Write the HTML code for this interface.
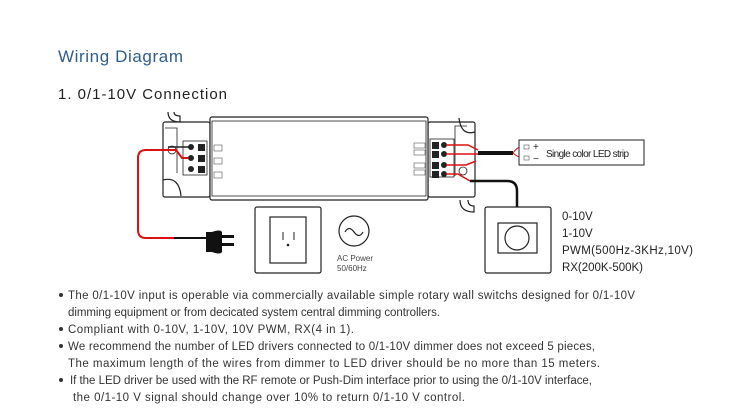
<!DOCTYPE html>
<html><head><meta charset="utf-8"><style>
html,body{margin:0;padding:0;background:#fff;}
svg{display:block;font-family:"Liberation Sans",sans-serif;}
</style></head><body>
<svg width="736" height="413" viewBox="0 0 736 413" xmlns="http://www.w3.org/2000/svg">
<rect width="736" height="413" fill="#fff"/>
<text x="58" y="62" font-size="17" fill="#2f5d8c" textLength="125">Wiring Diagram</text>
<text x="58" y="99" font-size="15" fill="#222" textLength="169">1. 0/1-10V Connection</text>

<g stroke="#222" fill="#fff" stroke-width="1.2">
<rect x="163" y="122" width="47" height="75" rx="2"/>
<rect x="428" y="122" width="47" height="75" rx="2"/>
<rect x="210" y="117" width="218" height="83" rx="2"/>
<rect x="212" y="121" width="214" height="75" stroke-width="0.8"/>
<rect x="183" y="141" width="24" height="34" stroke-width="0.8"/>
<rect x="430" y="139" width="24" height="38" stroke-width="0.8"/>
<path d="M165,128 h12 v45 M467,126 h-12 v50" stroke-width="0.8" fill="none"/>
<path d="M163,180 q16,-4 18,16 M475,132 q-14,4 -16,-14" fill="none" stroke-width="1.2"/>
<path d="M168,112 q0,10 12,10 v-6 q-6,0 -6,-4 M460,200 q0,12 14,12 v-6 q-6,0 -6,-6" fill="none"/>
<circle cx="172" cy="150" r="4" stroke-width="0.8"/>
<circle cx="463" cy="171" r="4" stroke-width="0.8"/>
</g>
<g fill="#222">
<rect x="198" y="144" width="7" height="7"/><rect x="198" y="155" width="7" height="7"/><rect x="198" y="166" width="7" height="7"/>
<circle cx="191" cy="147" r="3"/><circle cx="191" cy="158" r="3"/><circle cx="191" cy="169" r="3"/>
<rect x="432" y="142" width="7" height="7"/><rect x="432" y="151" width="7" height="7"/><rect x="432" y="162" width="7" height="7"/><rect x="432" y="171" width="7" height="7"/>
<circle cx="444" cy="145" r="3"/><circle cx="444" cy="154" r="3"/><circle cx="444" cy="165" r="3"/><circle cx="444" cy="174" r="3"/>
</g>
<g fill="none" stroke="#555" stroke-width="0.6">
<rect x="214" y="145" width="8" height="6"/><rect x="214" y="158" width="8" height="6"/><rect x="214" y="172" width="8" height="6"/>
<rect x="414" y="143" width="11" height="5"/><rect x="414" y="150" width="11" height="5"/><rect x="414" y="163" width="11" height="5"/><rect x="414" y="170" width="11" height="5"/>
</g>
<path d="M168,147 h21" stroke="#222" stroke-width="1.5" fill="none"/>
<path d="M188,158 h-6 l-6,-8 h-30 q-8,0 -8,8 v72 q0,8 8,8 h30" stroke="#d11" stroke-width="2" fill="none"/>
<path d="M174,238 h35" stroke="#111" stroke-width="2" fill="none"/>
<path d="M446,145 h22 l10,5 M446,154 h32 M446,165 h20 l10,-4 M446,174 h12 l12,7" stroke="#d11" stroke-width="1.5" fill="none"/>
<path d="M478,153 h35" stroke="#111" stroke-width="4" fill="none"/>
<path d="M513,153 q4,-6 10,-7 M513,153 q4,4 10,5" stroke="#d11" stroke-width="1" fill="none"/>
<path d="M470,181 h37 q10,0 10,10 v17" stroke="#111" stroke-width="2.5" fill="none"/>
<path d="M206,232 h6 q8,-3 10,0 v20 q-2,3 -10,0 h-6 z" fill="#111"/>
<rect x="221" y="235" width="13" height="3" fill="#111"/><rect x="221" y="243" width="13" height="3" fill="#111"/>
<rect x="519" y="140" width="125" height="25" fill="#fff" stroke="#222" stroke-width="1"/>
<rect x="524" y="145" width="5" height="4" fill="none" stroke="#555" stroke-width="0.6"/>
<rect x="524" y="156" width="5" height="4" fill="none" stroke="#555" stroke-width="0.6"/>
<text x="533" y="150" font-size="10" fill="#222">+</text>
<text x="533" y="162" font-size="10" fill="#222">−</text>
<text x="546" y="157" font-size="10" fill="#222" textLength="83">Single color LED strip</text>
<rect x="255" y="207" width="66" height="66" fill="#fff" stroke="#222" stroke-width="1.2" rx="2"/>
<rect x="270" y="217" width="36" height="46" fill="#fff" stroke="#222" stroke-width="1.2"/>
<path d="M283,232 v8 M294,232 v8" stroke="#222" stroke-width="1"/>
<circle cx="288" cy="245" r="1.3" fill="#222"/>
<circle cx="354" cy="231" r="15" fill="none" stroke="#222" stroke-width="1.2"/>
<path d="M345,232 q4,-7 9,0 q5,7 9,0" fill="none" stroke="#222" stroke-width="1.2"/>
<text x="337" y="261" font-size="8" fill="#444">AC Power</text>
<text x="337" y="271" font-size="8" fill="#444">50/60Hz</text>
<rect x="485" y="207" width="66" height="66" fill="#fff" stroke="#222" stroke-width="1.2" rx="2"/>
<rect x="498" y="223" width="39" height="30" fill="#fff" stroke="#222" stroke-width="1.2"/>
<circle cx="517" cy="238" r="12" fill="none" stroke="#222" stroke-width="1.2"/>
<g font-size="11.5" fill="#222">
<text x="562" y="220">0-10V</text>
<text x="562" y="237">1-10V</text>
<text x="562" y="254" textLength="131">PWM(500Hz-3KHz,10V)</text>
<text x="562" y="271" textLength="81">RX(200K-500K)</text>
</g>
<g font-size="11.5" fill="#333">
<circle cx="61" cy="295" r="2" fill="#333"/>
<text x="68" y="299" textLength="567">The 0/1-10V input is operable via commercially available simple rotary wall switchs designed for 0/1-10V</text>
<text x="68" y="316" textLength="372">dimming equipment or from decicated system central dimming controllers.</text>
<circle cx="61" cy="329" r="2" fill="#333"/>
<text x="68" y="333" textLength="286">Compliant with 0-10V, 1-10V, 10V PWM, RX(4 in 1).</text>
<circle cx="61" cy="346" r="2" fill="#333"/>
<text x="68" y="350" textLength="527">We recommend the number of LED drivers connected to 0/1-10V dimmer does not exceed 5 pieces,</text>
<text x="68" y="367" textLength="532">The maximum length of the wires from dimmer to LED driver should be no more than 15 meters.</text>
<circle cx="61" cy="380" r="2" fill="#333"/>
<text x="70" y="384" textLength="522">If the LED driver be used with the RF remote or Push-Dim interface prior to using the 0/1-10V interface,</text>
<text x="73" y="401" textLength="392">the 0/1-10 V signal should change over 10% to return 0/1-10 V control.</text>
</g>
</svg>
</body></html>
